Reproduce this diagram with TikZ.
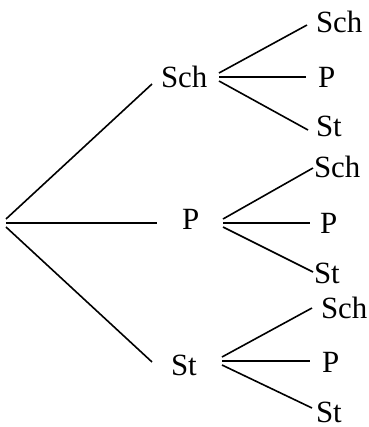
\documentclass[tikz,border=0pt]{standalone}
\usepackage{fontspec}
\setmainfont{Liberation Serif}
\begin{document}
\begin{tikzpicture}[x=1bp,y=-1bp,
  lbl/.style={anchor=base west,inner sep=0pt,outer sep=0pt,font=\fontsize{31}{31}\selectfont},
  edge/.style={line width=1.6bp}]
\useasboundingbox (0,0) rectangle (369,427);
% level 1 labels
\node[lbl] (sch) at (161,87) {Sch};
\node[lbl] (p)   at (182,229) {P};
\node[lbl] (st)  at (171,375) {St};
% level 2 labels
\node[lbl] (schsch) at (316,32) {Sch};
\node[lbl] (schp)   at (318,87) {P};
\node[lbl] (schst)  at (316,136) {St};
\node[lbl] (psch)   at (314,177) {Sch};
\node[lbl] (pp)     at (320,233) {P};
\node[lbl] (pst)    at (314,283) {St};
\node[lbl] (stsch)  at (321,318) {Sch};
\node[lbl] (stp)    at (322,372) {P};
\node[lbl] (stst)   at (316,422) {St};
% connector ends
\coordinate (r1) at (6,219);
\coordinate (r2) at (6,223);
\coordinate (r3) at (6,227);
\coordinate (schin) at (152,84);
\coordinate (pin)   at (157,223);
\coordinate (stin)  at (152,362);
\coordinate (scho1) at (219,73);
\coordinate (scho2) at (219,77);
\coordinate (scho3) at (219,81);
\coordinate (po1) at (223,219);
\coordinate (po2) at (223,223);
\coordinate (po3) at (223,227);
\coordinate (sto1) at (222,357);
\coordinate (sto2) at (222,361);
\coordinate (sto3) at (222,365);
\coordinate (schschin) at (307,25);
\coordinate (schpin)   at (306,77);
\coordinate (schstin)  at (308,130);
\coordinate (pschin)   at (313,168);
\coordinate (ppin)     at (310,223);
\coordinate (pstin)    at (313,272);
\coordinate (stschin)  at (312,308);
\coordinate (stpin)    at (310,361);
\coordinate (ststin)   at (312,408);
% connectors
\draw[edge] (r1) -- (schin);
\draw[edge] (r2) -- (pin);
\draw[edge] (r3) -- (stin);
\draw[edge] (scho1) -- (schschin);
\draw[edge] (scho2) -- (schpin);
\draw[edge] (scho3) -- (schstin);
\draw[edge] (po1) -- (pschin);
\draw[edge] (po2) -- (ppin);
\draw[edge] (po3) -- (pstin);
\draw[edge] (sto1) -- (stschin);
\draw[edge] (sto2) -- (stpin);
\draw[edge] (sto3) -- (ststin);
\end{tikzpicture}
\end{document}
